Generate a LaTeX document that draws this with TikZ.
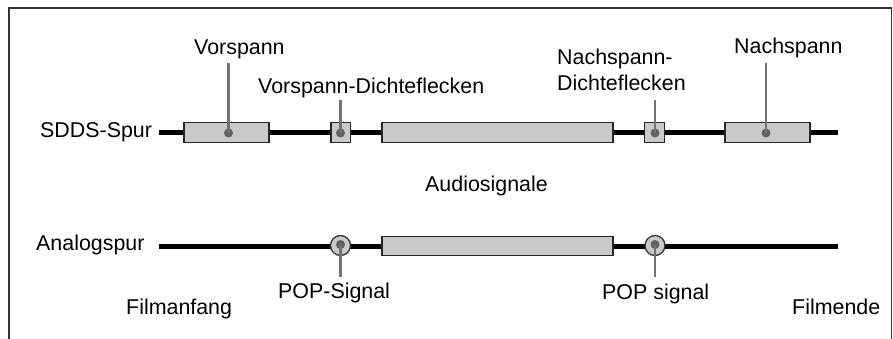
\documentclass[tikz,border=0pt]{standalone}
\usepackage{fontspec}
\setmainfont{Liberation Sans}
\begin{document}
\begin{tikzpicture}[x=1pt,y=-1pt,
  track/.style={line width=5pt, black},
  seg/.style={draw=black!85, line width=1.3pt, fill=black!21, inner sep=0, minimum height=19.5pt},
  popc/.style={circle, draw=black!80, line width=1.3pt, fill=black!21, inner sep=0, minimum size=20pt},
  leader/.style={draw=black!55, line width=2.8pt},
  dotm/.style={circle, fill=black!62, inner sep=0, minimum size=9pt},
  lbl/.style={anchor=base west, inner sep=0, font=\fontsize{21.4}{25}\selectfont},
  frame/.style={draw=black!80, line width=1.4pt}]
\useasboundingbox (0,0) rectangle (893,339);
% frame
\draw[frame] (9,339) -- (9,8) -- (891.5,8) -- (891.5,339);
% tracks
\coordinate (s0) at (159,132.7);
\coordinate (s1) at (838,132.7);
\coordinate (a0) at (159,246);
\coordinate (a1) at (838,246);
\draw[track] (s0) -- (s1);
\draw[track] (a0) -- (a1);
% SDDS segments
\node[seg, minimum width=85pt] (b1) at (226.5,132.5) {};
\node[seg, minimum width=19.5pt] (b2) at (340.7,132.5) {};
\node[seg, minimum width=231pt] (b3) at (497.5,132.5) {};
\node[seg, minimum width=20pt] (b4) at (654.5,132.5) {};
\node[seg, minimum width=85pt] (b5) at (767.5,132.5) {};
% analog
\node[seg, minimum width=231pt] (ab) at (497.5,246) {};
\node[popc] (c1) at (340.5,245.5) {};
\node[popc] (c2) at (655,245.5) {};
% labels
\node[lbl] (tv) at (194,55) {Vorspann};
\node[lbl] (tvd) at (258,94) {Vorspann-Dichteflecken};
\node[lbl] (tnd1) at (557,65) {Nachspann-};
\node[lbl] (tnd2) at (557,91) {Dichteflecken};
\node[lbl] (tn) at (734,54) {Nachspann};
\node[lbl] (tsd) at (40,138) {SDDS-Spur};
\node[lbl] (tau) at (425,191) {Audiosignale};
\node[lbl] (tan) at (36,250) {Analogspur};
\node[lbl] (tp1) at (278,298) {POP-Signal};
\node[lbl] (tp2) at (602,299) {POP signal};
\node[lbl] (tfa) at (126,314) {Filmanfang};
\node[lbl] (tfe) at (792,314) {Filmende};
% leader tops / ends
\coordinate (lv) at (228.5,63);
\coordinate (lvd) at (340.5,100);
\coordinate (lnd) at (655,100);
\coordinate (ln) at (766,63);
\coordinate (lp1) at (340.5,277);
\coordinate (lp2) at (655,277);
% dots
\node[dotm] (dv) at (228.5,133) {};
\node[dotm] (dvd) at (340.5,133) {};
\node[dotm] (dnd) at (655,133) {};
\node[dotm] (dn) at (766,133) {};
\node[dotm] (dp1) at (340.5,244.5) {};
\node[dotm] (dp2) at (655,244.5) {};
\draw[leader] (lv) -- (dv.center);
\draw[leader] (lvd) -- (dvd.center);
\draw[leader] (lnd) -- (dnd.center);
\draw[leader] (ln) -- (dn.center);
\draw[leader] (lp1) -- (dp1.center);
\draw[leader] (lp2) -- (dp2.center);
\end{tikzpicture}
\end{document}
